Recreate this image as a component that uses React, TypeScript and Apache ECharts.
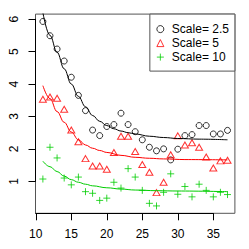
import React, { useEffect, useRef } from 'react';
import * as echarts from 'echarts';

// Observations (x = 11..37)
const xValues = [11, 12, 13, 14, 15, 16, 17, 18, 19, 20, 21, 22, 23, 24, 25, 26, 27, 28, 29, 30, 31, 32, 33, 34, 35, 36, 37];
const scale25 = [5.93, 5.49, 5.08, 4.71, 4.21, 3.65, 3.18, 2.58, 2.41, 2.69, 2.75, 3.10, 2.75, 2.53, 2.28, 2.05, 1.94, 2.00, 1.66, 1.99, 2.41, 2.44, 2.72, 2.72, 2.46, 2.46, 2.57];
const scale5 = [3.53, 3.60, 3.56, 3.22, 2.58, 2.22, 1.70, 1.47, 1.47, 1.37, 1.89, 2.39, 2.39, 1.92, 1.52, 1.28, 0.65, 0.97, 1.82, 2.40, 2.12, 2.19, 2.05, 1.75, 1.41, 1.63, 1.65];
const scale10 = [1.07, 2.05, 1.72, 1.10, 0.89, 1.13, 0.68, 0.63, 0.41, 0.48, 0.97, 0.79, 1.39, 1.13, 0.72, 0.32, 0.24, 0.66, 1.23, 0.60, 0.84, 0.52, 0.91, 0.72, 0.52, 0.66, 0.59];

// Fitted curves
const fitX25 = [11, 12, 13, 14, 15, 16, 17, 18, 19, 20, 21, 22, 23, 24, 26, 28, 30, 33, 37];
const fitY25 = [6.2, 5.5, 4.98, 4.47, 4.0, 3.62, 3.3, 3.03, 2.85, 2.72, 2.62, 2.55, 2.5, 2.46, 2.39, 2.35, 2.32, 2.3, 2.28];
const fitX5 = [11, 12, 13, 14, 15, 16, 17, 18, 19, 20, 22, 24, 26, 28, 31, 37];
const fitY5 = [3.95, 3.55, 3.15, 2.82, 2.52, 2.28, 2.12, 2.02, 1.95, 1.89, 1.8, 1.74, 1.71, 1.69, 1.67, 1.66];
const fitX10 = [11, 12, 13, 14, 15, 16, 17, 18, 20, 22, 24, 27, 30, 37];
const fitY10 = [1.62, 1.45, 1.3, 1.16, 1.05, 0.97, 0.91, 0.86, 0.8, 0.76, 0.73, 0.71, 0.7, 0.68];

const seriesNames = ['Scale= 2.5', 'Scale= 5', 'Scale= 10'];
const seriesColors = ['#000000', '#FF0000', '#00CD00'];
const xTickMin = 10;
const xTickMax = 35;
const xTickStep = 5;
const yTickMin = 1;
const yTickMax = 6;
const yTickStep = 1;

const FONT = '"Liberation Sans", Arial, Helvetica, sans-serif';
const CROSS = 'path://M5,0L5,10M0,5L10,5';
const seriesSymbols = ['circle', 'triangle', CROSS];

export default function App() {
  const ref = useRef<HTMLDivElement>(null);
  useEffect(() => {
    if (!ref.current) return;
    const chart = echarts.init(ref.current, undefined, { renderer: 'svg' });

    const allY = [...scale25, ...scale5, ...scale10];
    const xr = Math.max(...xValues) - Math.min(...xValues);
    const xmin = Math.min(...xValues) - 0.04 * xr;
    const xmax = Math.max(...xValues) + 0.04 * xr;
    const yr = Math.max(...allY) - Math.min(...allY);
    const ymin = Math.min(...allY) - 0.04 * yr;
    const ymax = Math.max(...allY) + 0.04 * yr;

    const W = 249, H = 249;
    const L = 35.5, R = 234.9, T = 14.1, B = 213.3;
    const px = (v: number) => L + ((v - xmin) / (xmax - xmin)) * (R - L);
    const py = (v: number) => B - ((v - ymin) / (ymax - ymin)) * (B - T);

    const pts = (xs: number[], ys: number[]) => xs.map((x, i) => [x, ys[i]]);
    const labelStyle = { fontSize: 12, color: '#000', fontFamily: FONT };
    const hollow = (i: number) => ({ color: 'rgba(0,0,0,0)', borderColor: seriesColors[i], borderWidth: 1 });

    chart.setOption({
      animation: false,
      grid: [
        { left: L, right: W - R, top: T, bottom: H - B, show: true, borderColor: '#555', borderWidth: 1, backgroundColor: 'transparent' },
        { left: px(xTickMin), right: W - px(xTickMax), top: T, bottom: H - B },
        { left: L, right: W - R, top: py(yTickMax), bottom: H - py(yTickMin) },
      ],
      xAxis: [
        { type: 'value', gridIndex: 0, min: xmin, max: xmax, show: false },
        {
          type: 'value', gridIndex: 1, min: xTickMin, max: xTickMax, interval: xTickStep, position: 'bottom',
          axisLine: { show: true, lineStyle: { color: '#000', width: 1 } },
          axisTick: { show: true, length: 7, lineStyle: { color: '#000', width: 1 } },
          axisLabel: { ...labelStyle, margin: 15 },
          splitLine: { show: false },
        },
        { type: 'value', gridIndex: 2, min: 0, max: 1, show: false },
      ],
      yAxis: [
        { type: 'value', gridIndex: 0, min: ymin, max: ymax, show: false },
        { type: 'value', gridIndex: 1, min: 0, max: 1, show: false },
        {
          type: 'value', gridIndex: 2, min: yTickMin, max: yTickMax, interval: yTickStep, position: 'left',
          axisLine: { show: true, lineStyle: { color: '#000', width: 1 } },
          axisTick: { show: true, length: 7, lineStyle: { color: '#000', width: 1 } },
          axisLabel: { ...labelStyle, margin: 16, rotate: 90 },
          splitLine: { show: false },
        },
      ],
      legend: {
        orient: 'vertical', right: W - R, top: T, padding: [8, 6, 7, 6.5], itemGap: 0,
        itemWidth: 7, itemHeight: 7, borderColor: '#555', borderWidth: 1, backgroundColor: '#fff',
        selectedMode: false,
        textStyle: { ...labelStyle, lineHeight: 14, padding: [0, 0, 0, 3] },
        data: seriesNames.map((name, i) => ({ name, icon: seriesSymbols[i], itemStyle: hollow(i) })),
      },
      series: [
        { type: 'line', name: 'fit25', xAxisIndex: 0, yAxisIndex: 0, data: pts(fitX25, fitY25), smooth: 0.4, smoothMonotone: 'x', showSymbol: false, silent: true, lineStyle: { color: seriesColors[0], width: 1 }, clip: true },
        { type: 'line', name: 'fit5', xAxisIndex: 0, yAxisIndex: 0, data: pts(fitX5, fitY5), smooth: 0.4, smoothMonotone: 'x', showSymbol: false, silent: true, lineStyle: { color: seriesColors[1], width: 1 }, clip: true },
        { type: 'line', name: 'fit10', xAxisIndex: 0, yAxisIndex: 0, data: pts(fitX10, fitY10), smooth: 0.4, smoothMonotone: 'x', showSymbol: false, silent: true, lineStyle: { color: seriesColors[2], width: 1 }, clip: true },
        { type: 'scatter', name: seriesNames[0], xAxisIndex: 0, yAxisIndex: 0, data: pts(xValues, scale25), symbol: seriesSymbols[0], symbolSize: 6, silent: true, itemStyle: hollow(0) },
        { type: 'scatter', name: seriesNames[1], xAxisIndex: 0, yAxisIndex: 0, data: pts(xValues, scale5), symbol: seriesSymbols[1], symbolSize: [7, 6], silent: true, itemStyle: hollow(1) },
        { type: 'scatter', name: seriesNames[2], xAxisIndex: 0, yAxisIndex: 0, data: pts(xValues, scale10), symbol: seriesSymbols[2], symbolSize: 7, silent: true, itemStyle: hollow(2) },
      ],
    });
    return () => chart.dispose();
  }, []);
  return <div ref={ref} style={{ position: 'absolute', left: 0, top: 0, width: 249, height: 249 }} />;
}
